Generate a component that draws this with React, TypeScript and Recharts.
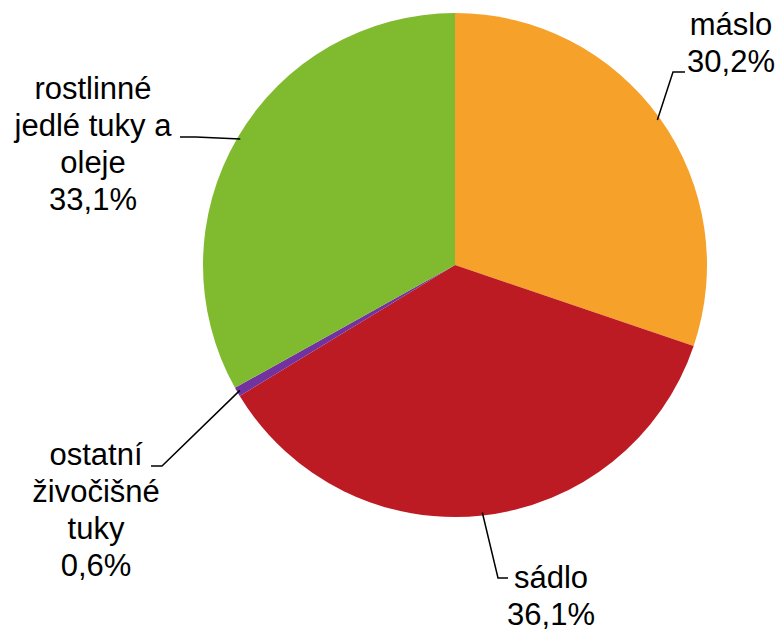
import { Cell, Pie, PieChart } from 'recharts';

// Struktura spotřeby tuků (podíl v %)
const categories = ['máslo', 'sádlo', 'ostatní živočišné tuky', 'rostlinné jedlé tuky a oleje'];
const shares = [30.2, 36.1, 0.6, 33.1];
const labelLines = [
  ['máslo'],
  ['sádlo'],
  ['ostatní', 'živočišné', 'tuky'],
  ['rostlinné', 'jedlé tuky a', 'oleje'],
];
const colors = ['#F6A12A', '#BD1B23', '#7233A0', '#80BA2F'];

const data = categories.map((name, i) => ({ name, value: shares[i] }));

// umístění popisků (leader: zlom, konec; text: střed x, první účaří)
const labelLayout = [
  { elbow: [673, 72], end: [685, 72], textX: 731, firstBaseline: 35 },
  { elbow: [498, 578], end: [508, 578], textX: 551, firstBaseline: 588 },
  { elbow: [162, 466], end: [151, 466], textX: 96, firstBaseline: 465 },
  { elbow: [196, 137], end: [180, 137], textX: 93, firstBaseline: 99 },
];

const RADIAN = Math.PI / 180;
const LINE_HEIGHT = 37;

function fmtPct(v: number): string {
  return `${v.toFixed(1).replace('.', ',')}%`;
}

function renderLabel(props: any) {
  const { cx, cy, midAngle, outerRadius, index } = props;
  const lay = labelLayout[index];
  const r = outerRadius - 3;
  const ax = cx + r * Math.cos(-midAngle * RADIAN);
  const ay = cy + r * Math.sin(-midAngle * RADIAN);
  const lines = [...labelLines[index], fmtPct(shares[index])];
  return (
    <g key={`lbl-${index}`}>
      <polyline
        points={`${ax},${ay} ${lay.elbow[0]},${lay.elbow[1]} ${lay.end[0]},${lay.end[1]}`}
        fill="none"
        stroke="#000"
        strokeWidth={1.5}
      />
      <text
        textAnchor="middle"
        fontFamily="'Liberation Sans', Arial, sans-serif"
        fontSize={31}
        fill="#000"
      >
        {lines.map((t, i) => (
          <tspan key={i} x={lay.textX} y={lay.firstBaseline + i * LINE_HEIGHT}>
            {t}
          </tspan>
        ))}
      </text>
    </g>
  );
}

export default function App() {
  return (
    <div style={{ position: 'absolute', left: 0, top: 0, background: '#fff' }}>
      <PieChart width={783} height={632} margin={{ top: 0, right: 0, bottom: 0, left: 0 }}>
        <Pie
          data={data}
          dataKey="value"
          nameKey="name"
          cx={455}
          cy={265}
          outerRadius={252}
          startAngle={90}
          endAngle={-270}
          stroke="none"
          label={renderLabel}
          labelLine={false}
          isAnimationActive={false}
        >
          {data.map((d, i) => (
            <Cell key={d.name} fill={colors[i]} />
          ))}
        </Pie>
      </PieChart>
    </div>
  );
}
